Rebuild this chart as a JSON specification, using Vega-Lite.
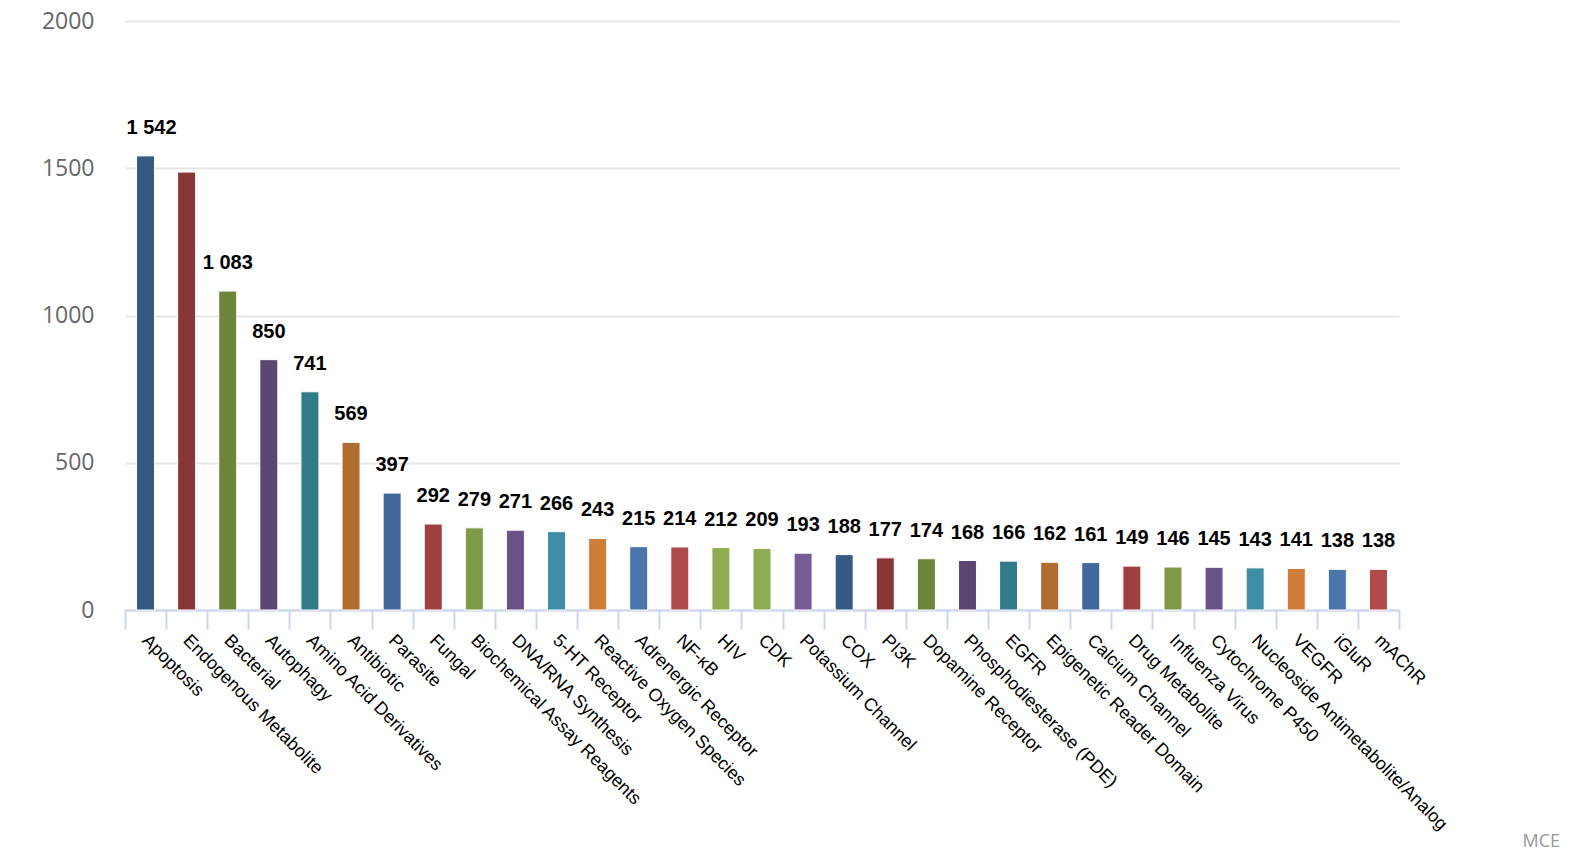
{
  "$schema": "https://vega.github.io/schema/vega-lite/v6.json",
  "autosize": {"type": "none"},
  "padding": {"left": 125, "top": 21, "right": 181, "bottom": 250},
  "width": 1274,
  "height": 589,
  "background": "white",
  "title": {
    "text": "MCE",
    "orient": "bottom",
    "anchor": "end",
    "frame": "group",
    "dx": 161,
    "dy": -11,
    "offset": 10,
    "font": "Open Sans",
    "fontSize": 18,
    "fontWeight": "normal",
    "color": "#999999"
  },
  "config": {
    "locale": {"number": {"decimal": ".", "thousands": " ", "grouping": [3], "currency": ["", ""]}},
    "view": {"stroke": null}
  },
  "data": {
    "values": [
      {"category": "Apoptosis", "count": 1542},
      {"category": "Endogenous Metabolite", "count": 1487},
      {"category": "Bacterial", "count": 1083},
      {"category": "Autophagy", "count": 850},
      {"category": "Amino Acid Derivatives", "count": 741},
      {"category": "Antibiotic", "count": 569},
      {"category": "Parasite", "count": 397},
      {"category": "Fungal", "count": 292},
      {"category": "Biochemical Assay Reagents", "count": 279},
      {"category": "DNA/RNA Synthesis", "count": 271},
      {"category": "5-HT Receptor", "count": 266},
      {"category": "Reactive Oxygen Species", "count": 243},
      {"category": "Adrenergic Receptor", "count": 215},
      {"category": "NF-κB", "count": 214},
      {"category": "HIV", "count": 212},
      {"category": "CDK", "count": 209},
      {"category": "Potassium Channel", "count": 193},
      {"category": "COX", "count": 188},
      {"category": "PI3K", "count": 177},
      {"category": "Dopamine Receptor", "count": 174},
      {"category": "Phosphodiesterase (PDE)", "count": 168},
      {"category": "EGFR", "count": 166},
      {"category": "Epigenetic Reader Domain", "count": 162},
      {"category": "Calcium Channel", "count": 161},
      {"category": "Drug Metabolite", "count": 149},
      {"category": "Influenza Virus", "count": 146},
      {"category": "Cytochrome P450", "count": 145},
      {"category": "Nucleoside Antimetabolite/Analog", "count": 143},
      {"category": "VEGFR", "count": 141},
      {"category": "iGluR", "count": 138},
      {"category": "mAChR", "count": 138}
    ]
  },
  "encoding": {
    "x": {
      "field": "category",
      "type": "nominal",
      "sort": null,
      "scale": {"paddingInner": 0, "paddingOuter": 0},
      "axis": {
        "title": null,
        "tickBand": "extent",
        "tickSize": 19,
        "tickWidth": 2,
        "tickColor": "#ccd6eb",
        "domainColor": "#ccd6eb",
        "domainWidth": 2,
        "labelAngle": 45,
        "labelAlign": "left",
        "labelBaseline": "top",
        "labelPadding": 2,
        "labelOffset": 5,
        "labelFont": "Liberation Sans",
        "labelFontSize": 18,
        "labelColor": "#000000",
        "labelLimit": 0,
        "labelOverlap": false,
        "grid": false
      }
    },
    "y": {
      "field": "count",
      "type": "quantitative",
      "scale": {"domain": [0, 2000], "nice": false},
      "axis": {
        "title": null,
        "values": [0, 500, 1000, 1500, 2000],
        "format": "d",
        "domain": false,
        "ticks": false,
        "grid": true,
        "gridColor": "#e6e6e6",
        "gridWidth": 2,
        "labelFont": "Open Sans",
        "labelFontSize": 23,
        "labelColor": "#666666",
        "labelPadding": 31
      }
    }
  },
  "layer": [
    {
      "mark": {"type": "bar", "width": 18, "stroke": "white", "strokeWidth": 1},
      "encoding": {
        "color": {
          "field": "category",
          "type": "nominal",
          "sort": null,
          "legend": null,
          "scale": {
            "domain": ["Apoptosis", "Endogenous Metabolite", "Bacterial", "Autophagy", "Amino Acid Derivatives", "Antibiotic", "Parasite", "Fungal", "Biochemical Assay Reagents", "DNA/RNA Synthesis", "5-HT Receptor", "Reactive Oxygen Species", "Adrenergic Receptor", "NF-κB", "HIV", "CDK", "Potassium Channel", "COX", "PI3K", "Dopamine Receptor", "Phosphodiesterase (PDE)", "EGFR", "Epigenetic Reader Domain", "Calcium Channel", "Drug Metabolite", "Influenza Virus", "Cytochrome P450", "Nucleoside Antimetabolite/Analog", "VEGFR", "iGluR", "mAChR"],
            "range": ["#375a84", "#893636", "#6d843b", "#5c4671", "#327b8a", "#b06b30", "#41689c", "#9f4040", "#7e9a48", "#6a5187", "#3d8ea4", "#d07c39", "#4a75ac", "#b04a4a", "#90ac52", "#90ac52", "#765c95", "#375a84", "#893636", "#6d843b", "#5c4671", "#327b8a", "#b06b30", "#41689c", "#9f4040", "#7e9a48", "#6a5187", "#3d8ea4", "#d07c39", "#4a75ac", "#b04a4a"]
          }
        }
      }
    },
    {
      "transform": [{"filter": "datum.category !== 'Endogenous Metabolite' && datum.category !== 'Apoptosis'"}],
      "mark": {"type": "text", "baseline": "alphabetic", "align": "center", "dy": -22, "font": "Liberation Sans", "fontSize": 20, "fontWeight": "bold", "color": "#000000"},
      "encoding": {"text": {"field": "count", "type": "quantitative", "format": ",d"}}
    },
    {
      "transform": [{"filter": "datum.category === 'Apoptosis'"}],
      "mark": {"type": "text", "baseline": "alphabetic", "align": "left", "dx": -19, "dy": -22, "font": "Liberation Sans", "fontSize": 20, "fontWeight": "bold", "color": "#000000"},
      "encoding": {"text": {"field": "count", "type": "quantitative", "format": ",d"}}
    }
  ]
}
